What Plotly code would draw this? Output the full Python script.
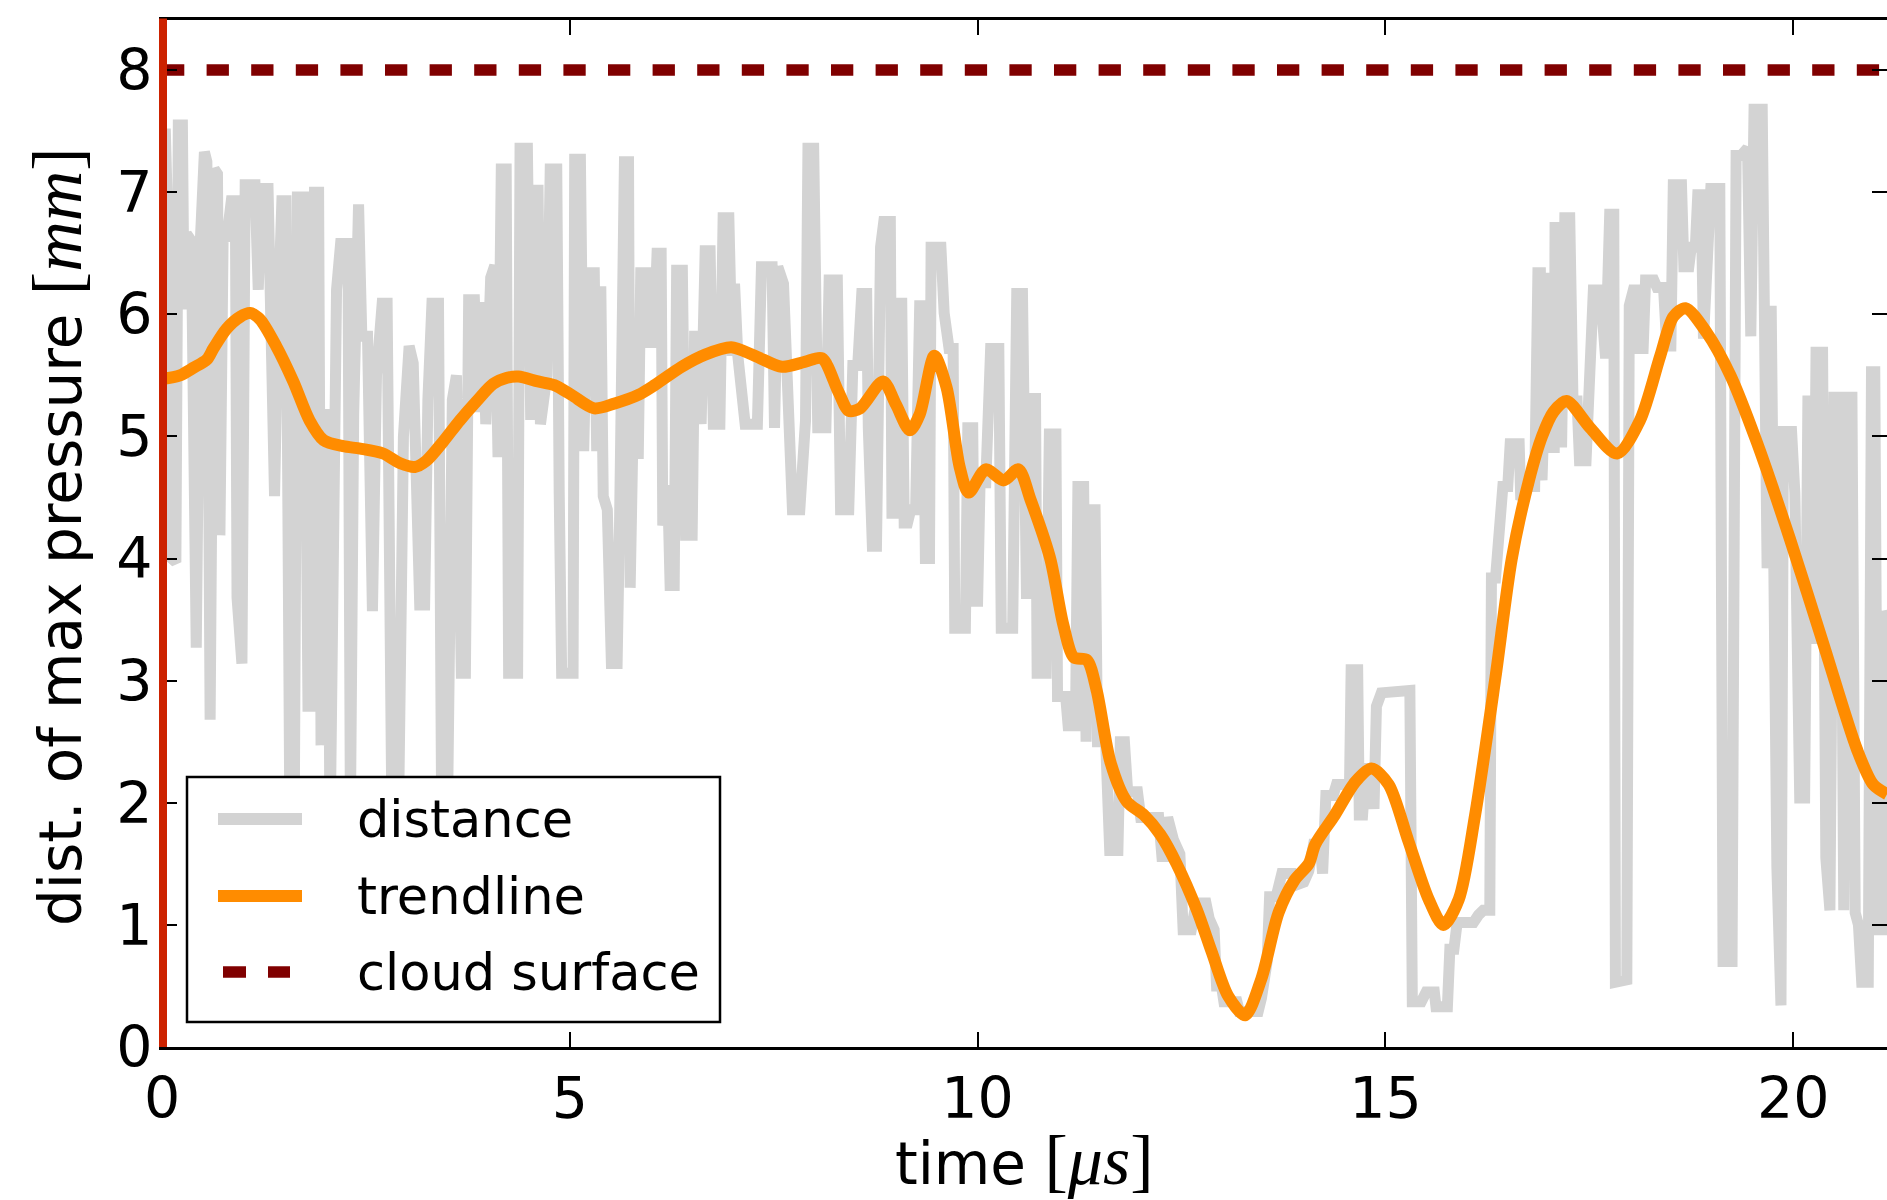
import plotly.graph_objects as go

# ---- data -------------------------------------------------------------
time_us = [
    0.00, 0.04, 0.08, 0.12, 0.17, 0.20, 0.25, 0.27, 0.30, 0.36, 0.42, 0.47, 0.52, 0.55, 0.59,
    0.64, 0.68, 0.71, 0.75, 0.79, 0.85, 0.90, 0.92, 0.98, 1.02, 1.14, 1.18, 1.22, 1.30, 1.38,
    1.42, 1.47, 1.52, 1.57, 1.62, 1.66, 1.74, 1.79, 1.84, 1.87, 1.92, 1.95, 1.99, 2.03, 2.06,
    2.10, 2.14, 2.19, 2.28, 2.31, 2.35, 2.41, 2.45, 2.52, 2.58, 2.63, 2.70, 2.76, 2.82, 2.90,
    2.96, 3.03, 3.08, 3.16, 3.22, 3.26, 3.31, 3.39, 3.43, 3.50, 3.56, 3.61, 3.67, 3.72, 3.76,
    3.83, 3.88, 3.93, 3.97, 4.03, 4.08, 4.12, 4.16, 4.22,
    4.25, 4.36, 4.39, 4.48, 4.52, 4.58, 4.61, 4.64, 4.72, 4.76, 4.84, 4.87, 4.90, 5.04, 5.06,
    5.13, 5.17, 5.22, 5.30, 5.33, 5.38, 5.41, 5.46, 5.51, 5.58, 5.61, 5.67, 5.72, 5.74, 5.77,
    5.84, 5.87, 5.94, 5.98, 6.03, 6.07, 6.12, 6.14, 6.20, 6.23, 6.28, 6.31, 6.38, 6.42, 6.50,
    6.53, 6.58, 6.61, 6.66, 6.72, 6.76, 6.84, 6.88, 6.95, 6.99, 7.02, 7.06, 7.15, 7.30, 7.35,
    7.48, 7.51, 7.55, 7.62, 7.73, 7.82, 7.86, 7.89, 7.92, 7.99, 8.04, 8.14, 8.18, 8.28, 8.32,
    8.42,
    8.47, 8.53, 8.58, 8.64, 8.66, 8.71, 8.76, 8.78, 8.81, 8.85, 8.93, 8.95, 8.98, 9.00, 9.07,
    9.10, 9.14, 9.18, 9.24, 9.29, 9.33, 9.36, 9.41, 9.43, 9.55, 9.59, 9.65, 9.70, 9.72, 9.85,
    9.88, 9.94, 9.96, 10.00, 10.03, 10.10, 10.12, 10.16, 10.26, 10.29, 10.43, 10.45, 10.48,
    10.55, 10.57, 10.60, 10.63, 10.71, 10.73, 10.84, 10.88, 10.96, 10.98, 11.08, 11.11, 11.20,
    11.23, 11.30, 11.33, 11.36, 11.44, 11.47, 11.57, 11.62, 11.72, 11.75, 11.80, 11.84, 11.96,
    12.00, 12.22, 12.26, 12.30, 12.33, 12.40, 12.48, 12.52, 12.62,
    12.68, 12.80, 12.84, 12.90, 12.93, 12.99, 13.02, 13.18, 13.21, 13.44, 13.48, 13.55, 13.58,
    13.66, 13.73, 13.86, 13.92, 14.00, 14.06, 14.12, 14.20, 14.23, 14.27, 14.36, 14.40, 14.56,
    14.58, 14.66, 14.68, 14.72, 14.76, 14.82, 14.86, 14.89, 14.95, 15.10, 15.16, 15.30, 15.33,
    15.44, 15.50, 15.60, 15.62, 15.76, 15.79, 15.84, 15.88, 16.08, 16.14, 16.20, 16.28, 16.30,
    16.35, 16.38, 16.44, 16.50, 16.53, 16.64, 16.66, 16.75, 16.83, 16.87, 16.90,
    16.92, 16.97, 17.00, 17.03, 17.07, 17.08, 17.14, 17.16, 17.20, 17.26, 17.30, 17.35, 17.38,
    17.46, 17.49, 17.52, 17.55, 17.61, 17.65, 17.70, 17.75, 17.80, 17.82, 17.96, 17.99, 18.04,
    18.08, 18.11, 18.16, 18.19, 18.29, 18.33, 18.41, 18.45, 18.50, 18.53, 18.63, 18.66, 18.72,
    18.75, 18.80, 18.83, 18.87, 18.90, 18.96, 18.99, 19.10, 19.14, 19.25, 19.30, 19.36, 19.44,
    19.48, 19.52, 19.62, 19.65, 19.68, 19.73, 19.77, 19.80, 19.85, 19.88, 19.98, 20.02, 20.08,
    20.14, 20.18, 20.22, 20.25, 20.28, 20.36, 20.40, 20.45, 20.50, 20.58, 20.62, 20.66, 20.72,
    20.76, 20.80, 20.84, 20.92, 20.96, 21.00, 21.04, 21.10, 21.14, 21.18,
]
distance_mm = [
    6.60, 7.52, 6.50, 4.00, 3.97, 7.55, 7.55, 6.04, 6.66, 6.60, 3.27, 6.60, 7.33, 7.25, 2.68,
    7.19, 7.15, 4.19, 6.68, 6.60, 6.93, 6.93, 3.68, 3.14, 7.06, 7.06, 6.20, 7.03, 7.03, 4.51,
    5.90, 6.93, 6.93, 1.60, 1.70, 6.96, 6.96, 2.79, 2.79, 7.00, 7.00, 2.47, 5.18, 5.18, 1.70,
    4.32, 6.20, 6.58, 6.58, 1.90, 5.18, 6.90, 5.82, 5.82, 3.57, 5.50, 6.09, 6.09, 1.80, 1.90,
    5.00, 5.74, 5.60, 3.62, 3.62, 5.30, 6.09, 6.09, 1.80, 1.90, 5.30, 5.50, 3.06, 3.06, 6.12,
    6.12, 5.20, 6.10, 5.10, 6.30, 6.40, 4.83, 7.19, 7.19,
    3.06, 3.06, 7.36, 7.36, 5.18, 5.18, 7.06, 5.10, 5.50, 7.19, 7.19, 4.54, 3.06, 3.06, 7.27,
    7.27, 4.88, 6.34, 6.34, 4.88, 6.23, 4.51, 4.40, 3.14, 3.14, 4.29, 7.25, 7.25, 3.76, 4.86,
    4.86, 6.34, 6.34, 5.77, 5.77, 6.50, 6.50, 4.27, 4.60, 3.78, 3.78, 6.36, 6.36, 4.19, 4.19,
    5.82, 5.82, 5.10, 6.52, 6.52, 5.10, 5.10, 6.79, 6.79, 5.66, 6.25, 5.66, 5.10, 5.10, 6.39,
    6.39, 5.07, 6.39, 6.25, 4.40, 4.40, 5.13, 5.13, 7.36, 7.36, 5.07, 5.07, 6.28, 6.28, 4.40,
    4.40,
    5.58, 5.58, 6.17, 6.17, 5.07, 4.10, 4.10, 6.28, 6.55, 6.76, 6.76, 4.37, 4.37, 6.09, 6.09,
    4.29, 4.29, 4.40, 4.40, 6.07, 6.07, 4.00, 4.00, 6.55, 6.55, 6.01, 5.72, 5.72, 3.43, 3.43,
    5.07, 5.07, 3.65, 3.65, 4.62, 4.62, 5.31, 5.72, 5.72, 3.43, 3.43, 5.05, 6.17,
    6.17, 3.67, 3.67, 5.31, 5.31, 3.06, 3.06, 5.02, 5.02, 2.87, 2.87, 2.63, 2.63,
    4.59, 4.59, 2.50, 4.40, 4.40, 2.50, 2.50, 1.61, 1.61, 2.50, 2.50, 2.09, 2.09,
    1.88, 1.88, 1.56, 1.56, 1.88, 1.70, 1.58, 0.96, 0.96,
    1.18, 1.18, 1.05, 0.96, 0.50, 0.50, 0.37, 0.37, 0.29, 0.29, 0.40, 0.70, 1.23,
    1.23, 1.42, 1.42, 1.33, 1.35, 1.44, 1.66, 1.66, 1.42, 2.06, 2.06, 2.15, 2.15,
    3.09, 3.09, 1.90, 1.90, 2.28, 2.28, 1.95, 2.79, 2.90, 2.90, 2.92, 2.92, 0.37,
    0.37, 0.45, 0.45, 0.33, 0.33, 0.80, 0.80, 1.02, 1.02, 1.08, 1.12, 1.12, 3.84,
    3.84, 4.11, 4.59, 4.59, 4.94, 4.94, 4.48, 4.59, 4.59, 6.34, 6.34,
    4.64, 6.34, 6.34, 4.91, 4.91, 6.71, 6.71, 4.91, 6.79, 6.79, 5.29, 5.29, 4.80,
    4.80, 5.29, 5.29, 6.20, 6.20, 6.07, 5.64, 6.82, 6.82, 0.53, 0.55, 6.07, 6.20,
    6.20, 5.72, 5.72, 6.28, 6.28, 6.22, 6.22, 5.74, 5.74, 7.06, 7.06, 6.39, 6.39,
    6.55, 6.55, 6.98, 6.98, 5.80, 6.60, 7.03, 7.03, 0.70, 0.70, 7.30, 7.30, 7.36,
    5.82, 7.68, 7.68, 3.92, 3.92, 6.07, 1.47, 1.47, 0.34, 5.04, 5.04, 4.54, 2.04,
    2.04, 5.29, 5.29, 3.30, 5.69, 5.69, 1.55, 1.12, 5.32, 5.32, 1.12, 5.32, 5.32,
    1.10, 1.00, 0.53, 0.53, 5.53, 5.53, 0.96, 0.96, 3.57, 3.50,
]

trend_t = [
    0.00, 0.22, 0.38, 0.55, 0.63, 0.79, 0.96, 1.08, 1.20, 1.40, 1.61, 1.81, 1.98, 2.22, 2.43,
    2.71, 2.92, 3.10, 3.24, 3.45, 3.65, 3.86, 4.06, 4.23, 4.37, 4.61, 4.81, 5.02, 5.30, 5.55,
    5.84, 6.04, 6.37, 6.66, 6.98, 7.27, 7.60, 7.88, 8.09, 8.29, 8.42, 8.56, 8.84, 9.00, 9.17,
    9.29, 9.47, 9.62, 9.78, 9.89, 10.10, 10.32, 10.50, 10.65, 10.89, 11.05, 11.18, 11.34,
    11.46, 11.63, 11.83, 12.04, 12.24, 12.44, 12.69, 12.87, 13.07, 13.28, 13.48, 13.69,
    13.89, 14.06, 14.14, 14.38, 14.63, 14.83, 15.04, 15.28, 15.53, 15.71, 15.90, 16.10,
    16.35, 16.55, 16.76, 16.92, 17.06, 17.22, 17.51, 17.84, 18.12, 18.37, 18.53, 18.68,
    18.94, 19.23, 19.55, 19.96, 20.37, 20.78, 20.98, 21.15,
]
trend_d = [
    5.47, 5.50, 5.56, 5.63, 5.72, 5.88, 5.98, 6.01, 5.96, 5.74, 5.45, 5.13, 4.97, 4.92, 4.90,
    4.86, 4.78, 4.75, 4.80, 4.96, 5.13, 5.29, 5.43, 5.48, 5.49, 5.45, 5.42, 5.34, 5.23, 5.27,
    5.34, 5.42, 5.57, 5.67, 5.73, 5.66, 5.57, 5.61, 5.64, 5.37, 5.21, 5.23, 5.45, 5.26, 5.05,
    5.18, 5.66, 5.40, 4.75, 4.54, 4.73, 4.64, 4.73, 4.48, 4.00, 3.46, 3.19, 3.17,
    2.92, 2.33, 2.01, 1.90, 1.74, 1.50, 1.12, 0.78, 0.42, 0.26, 0.56, 1.10,
    1.37, 1.50, 1.66, 1.90, 2.17, 2.28, 2.15, 1.69, 1.21, 1.00, 1.21, 1.90,
    3.03, 4.00, 4.64, 5.00, 5.20, 5.29, 5.07, 4.86, 5.13, 5.66, 5.98, 6.05,
    5.85, 5.50, 4.96, 4.16, 3.30, 2.44, 2.15, 2.07,
]

cloud_surface_mm = 8.0
x_ticks = [0, 5, 10, 15, 20]
y_ticks = [0, 1, 2, 3, 4, 5, 6, 7, 8]
x_range = [0, 21.15]
y_range = [0, 8.41]

legend_labels = ["distance", "trendline", "cloud surface"]

# ---- styling ----------------------------------------------------------
GRAY = "#d3d3d3"
ORANGE = "#ff8c00"
MAROON = "#800000"
RED = "#cc2200"
FONT = "DejaVu Sans"
SERIF = "Liberation Serif"

W, H = 1887, 1200
PL, PR, PT, PB = 162, 1887, 20, 1047   # plot-area edges in pixels


def px_x(p):
    return (p - PL) / (PR - PL)


def px_y(p):
    return (PB - p) / (PB - PT)


def math_unit(s):
    # bracketed unit set in an upright serif with italic symbols
    return ("<span style='font-family:%s;font-size:70px'>[<i>%s</i>]</span>"
            % (SERIF, s))


fig = go.Figure()

fig.add_trace(go.Scatter(
    x=time_us, y=distance_mm, mode="lines", name=legend_labels[0],
    line=dict(color=GRAY, width=11), showlegend=False, hoverinfo="skip",
))
fig.add_trace(go.Scatter(
    x=trend_t, y=trend_d, mode="lines", name=legend_labels[1],
    line=dict(color=ORANGE, width=12, shape="spline", smoothing=0.8),
    showlegend=False, hoverinfo="skip",
))
fig.add_trace(go.Scatter(
    x=x_range, y=[cloud_surface_mm, cloud_surface_mm], mode="lines",
    name=legend_labels[2],
    line=dict(color=MAROON, width=11.5, dash="22.3px,22.3px"),
    showlegend=False, hoverinfo="skip",
))

axis_common = dict(
    ticks="inside", ticklen=15, tickwidth=2, tickcolor="black",
    showgrid=False, zeroline=False, mirror="ticks", showline=True,
    tickfont=dict(family=FONT, size=57, color="black"),
)
fig.update_xaxes(range=x_range, tickvals=x_ticks, linecolor="black",
                 linewidth=3, **axis_common)
fig.update_yaxes(range=y_range, tickvals=y_ticks, ticklabelstandoff=-5,
                 linecolor="rgba(0,0,0,0)", linewidth=3, **axis_common)

shapes = []
annotations = []

# legend box
lx0, lx1, ly0, ly1 = 187, 720, 777, 1022
shapes.append(dict(type="rect", xref="paper", yref="paper",
                   x0=px_x(lx0), x1=px_x(lx1), y0=px_y(ly1), y1=px_y(ly0),
                   fillcolor="white", line=dict(color="black", width=2.5),
                   layer="above"))
rows = [819, 896, 972]
shapes.append(dict(type="line", xref="paper", yref="paper",
                   x0=px_x(218), x1=px_x(302), y0=px_y(rows[0]), y1=px_y(rows[0]),
                   line=dict(color=GRAY, width=12), layer="above"))
shapes.append(dict(type="line", xref="paper", yref="paper",
                   x0=px_x(218), x1=px_x(302), y0=px_y(rows[1]), y1=px_y(rows[1]),
                   line=dict(color=ORANGE, width=12), layer="above"))
for a, b in [(223, 246), (268, 290)]:
    shapes.append(dict(type="line", xref="paper", yref="paper",
                       x0=px_x(a), x1=px_x(b), y0=px_y(rows[2]), y1=px_y(rows[2]),
                       line=dict(color=MAROON, width=11.5), layer="above"))
for label, ry in zip(legend_labels, rows):
    annotations.append(dict(text=label, xref="paper", yref="paper",
                            x=px_x(355), y=px_y(ry), xanchor="left", yanchor="middle",
                            showarrow=False,
                            font=dict(family=FONT, size=51, color="black")))

# vertical marker at t = 0
shapes.append(dict(type="line", xref="paper", yref="paper",
                   x0=px_x(163), x1=px_x(163), y0=0, y1=px_y(18.5),
                   line=dict(color=RED, width=8), layer="above"))

# axis titles
annotations.append(dict(
    text="time " + math_unit("μs"),
    xref="paper", yref="paper", x=0.5, y=px_y(1160),
    xanchor="center", yanchor="middle", showarrow=False,
    font=dict(family=FONT, size=58, color="black")))
annotations.append(dict(
    text="dist. of max pressure " + math_unit("mm"),
    xref="paper", yref="paper", x=px_x(57), y=px_y(537),
    xanchor="center", yanchor="middle", textangle=-90, showarrow=False,
    font=dict(family=FONT, size=58, color="black")))

fig.update_layout(
    width=W, height=H,
    margin=dict(l=PL, r=W - PR, t=PT, b=H - PB, autoexpand=False),
    paper_bgcolor="white", plot_bgcolor="white",
    showlegend=False, shapes=shapes, annotations=annotations,
)

fig.write_html("out.html")
